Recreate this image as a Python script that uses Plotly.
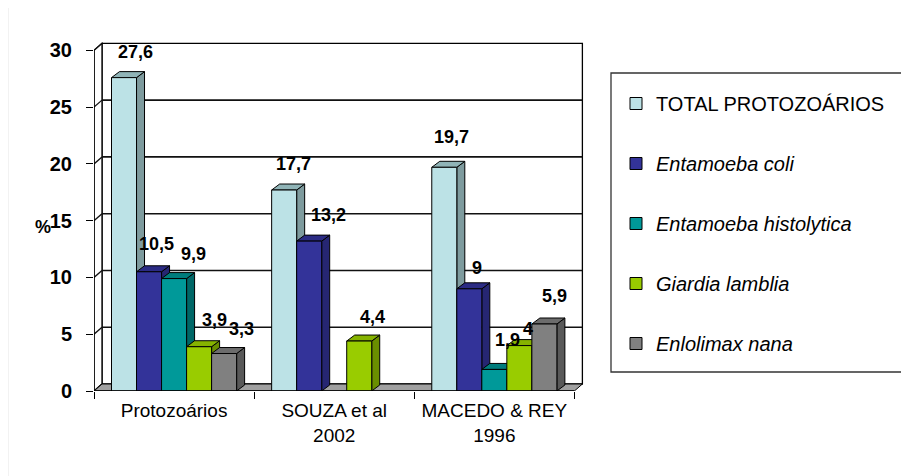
import plotly.graph_objects as go

# ---------------- data ----------------
categories = ["Protozoários", "SOUZA et al<br>2002", "MACEDO & REY<br>1996"]
series_names = ["TOTAL PROTOZOÁRIOS", "<i>Entamoeba coli</i>", "<i>Entamoeba histolytica</i>",
                "<i>Giardia lamblia</i>", "<i>Enlolimax nana</i>"]
total_protozoarios = [27.6, 17.7, 19.7]
entamoeba_coli = [10.5, 13.2, 9]
entamoeba_histolytica = [9.9, None, 1.9]
giardia_lamblia = [3.9, 4.4, 4]
enlolimax_nana = [3.3, None, 5.9]
y_tick_values = [0, 5, 10, 15, 20, 25, 30]

series_values = [total_protozoarios, entamoeba_coli, entamoeba_histolytica,
                 giardia_lamblia, enlolimax_nana]

# ---------------- styles ----------------
front_colors = ["#BCE2E6", "#333399", "#009999", "#99CC00", "#808080"]
side_colors = ["#7E9B9E", "#262672", "#006767", "#6A8E00", "#595959"]
top_colors = ["#90B4B7", "#2B2B84", "#007C7C", "#86B300", "#6C6C6C"]

# pixel nudges of the value labels relative to the bar top (category, series) -> (dx, dy up)
label_nudge = {
    (0, 0): (11, 26), (0, 1): (7, 28), (0, 2): (19, 25), (0, 3): (15, 27), (0, 4): (17, 25),
    (1, 0): (9, 26), (1, 1): (19, 26), (1, 3): (13, 24),
    (2, 0): (7, 30), (2, 1): (8, 21), (2, 2): (13, 29), (2, 3): (9, 17), (2, 4): (10, 28),
}

# ---------------- geometry (window pixels; page body has an 8px margin) ----------------
OFF = 8
W, H = 909, 476
ML = 94 - OFF
MT = 39 - OFF
XR = [-0.5, 2.56]
YR = [0, 31]
pw = 490
ph = 352
MR = W - ML - pw
MB = H - MT - ph
px_per_x = pw / (XR[1] - XR[0])
px_per_y = ph / (YR[1] - YR[0])

DXW = 8 / px_per_x   # depth of walls
DYW = 7 / px_per_y
DXB = 8 / px_per_x   # depth of bars
DYB = 6 / px_per_y

n_series = len(series_values)
bargap = 0.21875
bw = (1 - bargap) / n_series


def paper_x(px):
    return (px - OFF - ML) / pw


def paper_y(py):
    return (MT + ph - (py - OFF)) / ph


FONT = "Liberation Sans, Arial, sans-serif"

fig = go.Figure()
for j, (name, vals) in enumerate(zip(series_names, series_values)):
    fig.add_trace(go.Bar(
        name=name, x=list(range(len(categories))), y=vals,
        marker=dict(color=front_colors[j], line=dict(color="black", width=1)),
        legendgroup=f"g{j}", hoverinfo="skip",
    ))

shapes = []
x0w, x1w = XR[0], 2.5
# back wall
shapes.append(dict(type="rect", xref="x", yref="y", x0=x0w + DXW, x1=x1w + DXW, y0=DYW, y1=30 + DYW,
                   fillcolor="white", line=dict(color="black", width=1.3), layer="below"))
# left side wall
shapes.append(dict(type="path", xref="x", yref="y",
                   path=f"M{x0w},0 L{x0w + DXW},{DYW} L{x0w + DXW},{30 + DYW} L{x0w},30 Z",
                   fillcolor="white", line=dict(color="black", width=1.3), layer="below"))
# gridlines on back wall and diagonals on side wall
for t in y_tick_values:
    if 0 < t < 30:
        shapes.append(dict(type="line", xref="x", yref="y", x0=x0w + DXW, x1=x1w + DXW,
                           y0=t + DYW, y1=t + DYW, line=dict(color="#111111", width=1.6), layer="below"))
    shapes.append(dict(type="line", xref="x", yref="y", x0=x0w, x1=x0w + DXW,
                       y0=t, y1=t + DYW, line=dict(color="#111111", width=1.3), layer="below"))
# floor
shapes.append(dict(type="path", xref="x", yref="y",
                   path=f"M{x0w},0 L{x1w},0 L{x1w + DXW},{DYW} L{x0w + DXW},{DYW} Z",
                   fillcolor="#A0A0A0", line=dict(color="black", width=1), layer="below"))
# bar side and top faces + value labels
annotations = []
for i in range(len(categories)):
    for j, vals in enumerate(series_values):
        v = vals[i]
        if v is None:
            continue
        xc = i + (j - (n_series - 1) / 2) * bw
        l, r = xc - bw / 2, xc + bw / 2
        shapes.append(dict(type="path", xref="x", yref="y",
                           path=f"M{r},0 L{r + DXB},{DYB} L{r + DXB},{v + DYB} L{r},{v} Z",
                           fillcolor=side_colors[j], line=dict(color="black", width=1), layer="below"))
        shapes.append(dict(type="path", xref="x", yref="y",
                           path=f"M{l},{v} L{l + DXB},{v + DYB} L{r + DXB},{v + DYB} L{r},{v} Z",
                           fillcolor=top_colors[j], line=dict(color="black", width=1), layer="below"))
        dx, dy = label_nudge.get((i, j), (12, 26))
        annotations.append(dict(x=xc, y=v, xref="x", yref="y", text=f"{v:g}".replace(".", ","),
                                showarrow=False, xshift=dx, yshift=dy,
                                font=dict(family=FONT, size=18, color="black", weight="bold")))
# front axis lines
shapes.append(dict(type="line", xref="x", yref="y", x0=x0w, x1=x0w, y0=0, y1=30,
                   line=dict(color="black", width=1.3)))
shapes.append(dict(type="line", xref="x", yref="y", x0=x0w, x1=x1w, y0=0, y1=0,
                   line=dict(color="black", width=1.3)))
# legend frame
shapes.append(dict(type="rect", xref="paper", yref="paper", x0=paper_x(611), x1=paper_x(930),
                   y0=paper_y(372), y1=paper_y(73), line=dict(color="#333333", width=1.3)))
# faint chart border at left
shapes.append(dict(type="line", xref="paper", yref="paper", x0=paper_x(7.5), x1=paper_x(7.5),
                   y0=paper_y(490), y1=paper_y(8), line=dict(color="#E6E6E6", width=2)))

annotations.append(dict(x=paper_x(33), y=paper_y(227), xref="paper", yref="paper", text="%",
                        showarrow=False, font=dict(family=FONT, size=18, color="black", weight="bold")))

fig.update_layout(
    width=W, height=H, margin=dict(l=ML, r=MR, t=MT, b=MB, autoexpand=False),
    paper_bgcolor="white", plot_bgcolor="rgba(0,0,0,0)",
    barmode="group", bargap=bargap, bargroupgap=0,
    shapes=shapes, annotations=annotations,
    font=dict(family=FONT, color="black"),
    showlegend=True,
    legend=dict(x=paper_x(616), y=paper_y(84), xanchor="left", yanchor="top",
                bgcolor="rgba(0,0,0,0)", borderwidth=0, tracegroupgap=31,
                font=dict(family=FONT, size=20, color="black"), traceorder="grouped",
                itemwidth=30),
    xaxis=dict(range=XR, tickmode="array", tickvals=list(range(len(categories))), ticktext=categories,
               ticks="", showgrid=False, zeroline=False, showline=False,
               tickfont=dict(family=FONT, size=19, color="black"), ticklabelstandoff=6,
               minor=dict(tickmode="array", tickvals=[-0.5, 0.5, 1.5, 2.5], ticks="outside",
                          ticklen=7, tickcolor="black", tickwidth=1.3, showgrid=False),
               fixedrange=True),
    yaxis=dict(range=YR, tickmode="array", tickvals=y_tick_values, ticks="outside", ticklen=7,
               tickcolor="black", tickwidth=1.3, showgrid=False, zeroline=False, showline=False,
               tickfont=dict(family=FONT, size=20, color="black", weight="bold"), ticklabelstandoff=10,
               fixedrange=True),
)

fig.write_html("out.html")
